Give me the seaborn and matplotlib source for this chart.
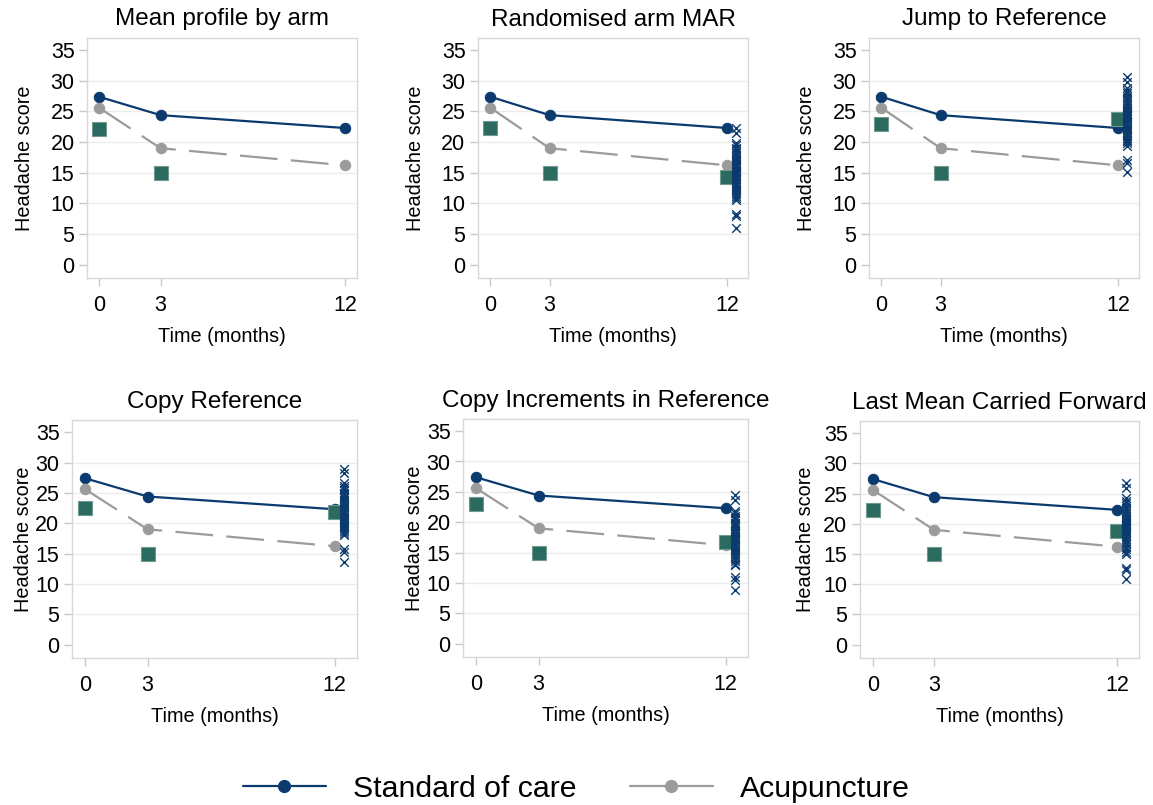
import numpy as np
import pandas as pd
import seaborn as sns
import matplotlib
matplotlib.use("Agg")
import matplotlib.pyplot as plt
from matplotlib.lines import Line2D

sns.set_style("white")
plt.rcParams["font.family"] = ["Liberation Sans", "DejaVu Sans"]
plt.rcParams["text.color"] = "black"
plt.rcParams["axes.labelcolor"] = "black"

# data
time = [0, 3, 12]
soc_mean = [27.4, 24.4, 22.3]
acu_mean = [25.6, 19.0, 16.2]

titles = ["Mean profile by arm", "Randomised arm MAR", "Jump to Reference",
          "Copy Reference", "Copy Increments in Reference", "Last Mean Carried Forward"]

# observed acupuncture means (green squares) at 0, 3, 12 months
obs_0 = [22.2, 22.3, 23.0, 22.5, 23.0, 22.2]
obs_3 = [15.0, 15.0, 15.0, 15.0, 15.0, 15.0]
obs_12 = [None, 14.3, 23.7, 21.8, 16.8, 18.8]

# imputed values at 12 months (crosses), one list per method
imp_mar = [22.3, 21.5, 19.9, 19.5, 19.1, 18.8, 18.5, 18.2, 17.9, 17.6, 17.3, 17.0,
           16.8, 16.5, 16.3, 16.1, 15.9, 15.7, 15.5, 15.3, 15.1, 14.9, 14.7, 14.4,
           14.2, 13.9, 13.6, 13.3, 13.0, 12.7, 12.4, 12.1, 11.8, 11.5, 11.2, 10.9,
           10.6, 8.3, 7.9, 6.0]
imp_j2r = [30.7, 29.8, 28.9, 28.4, 28.0, 27.6, 27.2, 26.8, 26.5, 26.2, 25.9, 25.6,
           25.3, 25.0, 24.8, 24.6, 24.4, 24.2, 24.0, 23.7, 23.4, 23.1, 22.8, 22.5,
           22.2, 21.9, 21.6, 21.3, 21.0, 20.7, 20.4, 20.1, 19.8, 19.4, 17.0, 16.6, 15.1]
imp_cr = [29.0, 28.3, 26.6, 26.2, 25.8, 25.4, 25.0, 24.7, 24.4, 24.1, 23.8, 23.5,
          23.2, 22.9, 22.6, 22.3, 22.0, 21.7, 21.4, 21.1, 20.8, 20.5, 20.2, 19.9,
          19.6, 19.3, 19.0, 18.7, 18.4, 18.0, 15.7, 15.3, 13.6]
imp_cir = [24.5, 23.6, 21.9, 21.5, 21.1, 20.7, 20.3, 19.9, 19.6, 19.3, 19.0, 18.8,
           18.6, 18.4, 18.2, 18.0, 17.8, 17.6, 17.3, 17.0, 16.7, 16.4, 16.1, 15.8,
           15.5, 15.2, 14.9, 14.6, 14.3, 14.0, 13.6, 13.2, 12.9, 10.9, 10.5, 8.8]
imp_lmcf = [26.8, 26.0, 24.2, 23.8, 23.4, 23.0, 22.6, 22.2, 21.9, 21.6, 21.3, 21.0,
            20.8, 20.6, 20.4, 20.2, 20.0, 19.8, 19.6, 19.3, 19.0, 18.7, 18.4, 18.1,
            17.8, 17.5, 17.2, 16.9, 16.6, 16.2, 15.8, 15.4, 15.0, 12.7, 12.3, 10.8]
imputed = [None, imp_mar, imp_j2r, imp_cr, imp_cir, imp_lmcf]
imp_time = 12.45

navy = "#0b3a6e"
grey = "#9b9b9b"
teal = "#2b6a5f"
frame = "#d8d8d8"

W, H = 1153, 805
fig = plt.figure(figsize=(W / 100, H / 100), dpi=100)

# panel frames in pixels: left, right, top, bottom
boxes = [(87, 357, 38, 278), (478, 748, 38, 278), (869, 1139, 38, 278),
         (72, 357, 420, 658), (463, 748, 419, 657), (860, 1139, 421, 658)]
ypads = [12, 12, 12, 1.5, 1.5, 6]

for i, (l, r, t, b) in enumerate(boxes):
    ax = fig.add_axes([l / W, 1 - b / H, (r - l) / W, (b - t) / H])

    for y in range(5, 31, 5):
        ax.axhline(y, color="#ececec", lw=1, zorder=0)

    sns.lineplot(x=time, y=soc_mean, ax=ax, color=navy, lw=1.6, marker="o",
                 markersize=7.5, markeredgecolor=navy, zorder=3)
    sns.lineplot(x=time, y=acu_mean, ax=ax, color=grey, lw=1.6, marker="o",
                 markersize=7.5, markeredgecolor=grey, linestyle=(0, (17, 6)), zorder=3)

    sq_t = [0, 3]
    sq_v = [obs_0[i], obs_3[i]]
    if obs_12[i] is not None:
        sq_t.append(12)
        sq_v.append(obs_12[i])
    sns.scatterplot(x=sq_t, y=sq_v, ax=ax, marker="s", s=95, color=teal,
                    edgecolor="#6f9a91", linewidth=0.8, zorder=4)

    if imputed[i] is not None:
        sns.scatterplot(x=[imp_time] * len(imputed[i]), y=imputed[i], ax=ax,
                        marker="x", s=38, color=navy, linewidth=1.0, zorder=5)

    ax.set_xlim(-0.59, 12.59) if i == 0 else ax.set_xlim(-0.63, 13.07)
    ax.set_ylim(-2.2, 37.0)
    ax.set_xticks(time)
    ax.set_yticks(range(0, 36, 5))
    ax.tick_params(axis="both", labelsize=15.5, length=6, width=1, color="#c8c8c8",
                   labelcolor="black", pad=3, direction="out", left=True, bottom=True)
    ax.tick_params(axis="x", pad=6)
    for s in ax.spines.values():
        s.set_color(frame)
        s.set_linewidth(1)
    ax.set_title(titles[i], fontsize=17.5, pad=9)
    ax.set_xlabel("Time (months)", fontsize=14.3, labelpad=8)
    ax.set_ylabel("Headache score", fontsize=14.3, labelpad=ypads[i])

handles = [Line2D([], [], color=navy, lw=1.6, marker="o", markersize=8.5),
           Line2D([], [], color=grey, lw=1.6, marker="o", markersize=8.5)]
fig.legend(handles, ["Standard of care", "Acupuncture"], loc="center",
           bbox_to_anchor=(0.5, 1 - 789 / H), ncol=2, frameon=False, fontsize=21.8,
           handlelength=2.75, handletextpad=0.9, columnspacing=1.75)

fig.savefig("out.png", dpi=100)
